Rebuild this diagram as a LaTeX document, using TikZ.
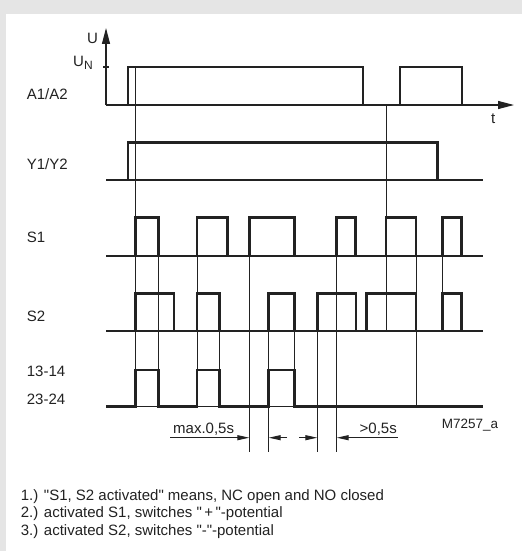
\documentclass[tikz,border=0pt]{standalone}
\usepackage{fontspec}
\setmainfont{Liberation Sans}
\newfontfamily\plainfont{Liberation Sans}
\usetikzlibrary{arrows.meta}
\definecolor{bggray}{HTML}{E5E5E5}
\definecolor{ink}{HTML}{222222}
\begin{document}
\begin{tikzpicture}[x=1pt,y=-1pt,
  sig/.style={ink,line width=2.8pt,line join=miter},
  baseln/.style={ink,line width=1.1pt},
  guide/.style={ink,line width=1pt},
  lbl/.style={ink,font=\plainfont\fontsize{15}{18}\selectfont,inner sep=0pt,anchor=base west},
  note/.style={ink,font=\plainfont\fontsize{15}{18}\selectfont,inner sep=0pt,anchor=base west},
  bigtip/.style={-{Triangle[length=16pt,width=8pt]}},
  dimtip/.style={-{Triangle[length=12pt,width=5pt]}}]
\useasboundingbox (0,0) rectangle (522,551);
\fill[bggray] (0,0) rectangle (522,551);
\fill[white] (6,14) rectangle (522,551);

% axes
\draw[baseln,bigtip] (106,105) -- (106,28);
\draw[baseln] (103,67) -- (109,67);
\draw[baseln,bigtip] (106,105) -- (514,105);

% baselines
\foreach \y in {180,256,331,406.7} \draw[baseln] (106,\y) -- (483,\y);

% guide lines
\draw[guide] (135.5,67) -- (135.5,406.7);
\draw[guide] (158.7,217.7) -- (158.7,406.7);
\draw[guide] (197,217.7) -- (197,406.7);
\draw[guide] (219.3,293.7) -- (219.3,406.7);
\draw[guide] (249.3,217.7) -- (249.3,451.7);
\draw[guide] (268.7,293.7) -- (268.7,451.7);
\draw[guide] (294.7,293.7) -- (294.7,406.7);
\draw[guide] (317.3,293.7) -- (317.3,451.7);
\draw[guide] (336.7,217.7) -- (336.7,451.7);
\draw[guide] (386,105) -- (386,331);
\draw[guide] (416,217.7) -- (416,406.7);
\draw[guide] (442.7,217.7) -- (442.7,331);

% A1/A2
\draw[sig] (106,105) -| (128,67) -| (363,105) -| (400,67) -| (462,105) -- (483,105);
% Y1/Y2
\draw[sig] (106,180) -| (128,142.7) -| (437.7,180) -- (483,180);
% S1
\draw[sig] (106,256) -| (135.5,217.7) -| (158.7,256) -| (197,217.7) -| (227.7,256)
  -| (249.3,217.7) -| (294.7,256) -| (336.7,217.7) -| (355.3,256)
  -| (386,217.7) -| (416,256) -| (442.7,217.7) -| (461.7,256) -- (483,256);
% S2
\draw[sig] (106,331) -| (135.5,293.7) -| (174,331) -| (197,293.7) -| (219.3,331)
  -| (268.7,293.7) -| (294.7,331) -| (317.3,293.7) -| (356,331)
  -| (366.7,293.7) -| (416,331) -| (442.7,293.7) -| (461.7,331) -- (483,331);
% 13-14 / 23-24
\draw[sig] (106,406.7) -| (135.5,370) -| (158.7,406.7) -| (197,370) -| (219.3,406.7)
  -| (268.7,370) -| (294.7,406.7) -- (483,406.7);

% dimension arrows
\draw[guide,dimtip] (170,437.7) -- (249.3,437.7);
\draw[guide,dimtip] (287,437.7) -- (268.7,437.7);
\draw[guide,dimtip] (299,437.7) -- (317.3,437.7);
\draw[guide,dimtip] (397.7,437.7) -- (336.7,437.7);
\node[lbl] (dmax) at (173,433) {max.0,5s};
\node[lbl,anchor=base east] (dmin) at (397,433) {>0,5s};
\node[lbl,font=\plainfont\fontsize{13.5}{16}\selectfont] (mref) at (441.7,428) {M7257\_a};

% labels
\node[lbl] (lU) at (87,44) {U};
\node[lbl] (lUN) at (73,66.7) {U\raisebox{-0.35ex}{\fontsize{12}{12}\selectfont N}};
\node[lbl] (lt) at (491,123) {t};
\node[lbl] (lA) at (26.7,99) {A1/A2};
\node[lbl] (lY) at (26.7,169) {Y1/Y2};
\node[lbl] (lS1) at (26.7,242.5) {S1};
\node[lbl] (lS2) at (26.7,321) {S2};
\node[lbl] (l13) at (26.7,376) {13-14};
\node[lbl] (l23) at (26.7,404) {23-24};

% notes
\node[note] (n1) at (20.7,500) {1.) "S1, S2 activated" means, NC open and NO closed};
\node[note] (n2) at (20.7,517.5) {2.) activated S1, switches "\,+\,"-potential};
\node[note] (n3) at (20.7,535) {3.) activated S2, switches "-"-potential};
\end{tikzpicture}
\end{document}
